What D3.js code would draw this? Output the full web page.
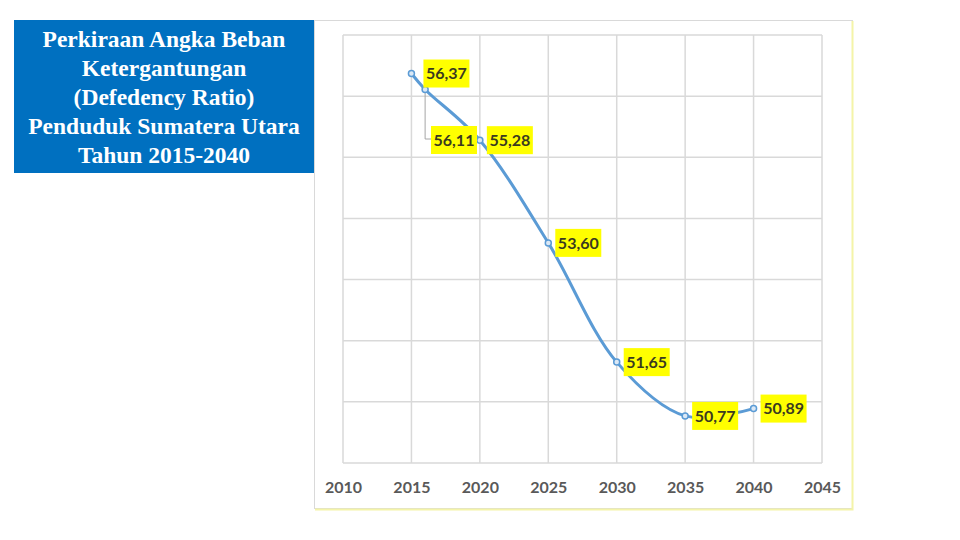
<!DOCTYPE html>
<html>
<head>
<meta charset="utf-8">
<script src="https://cdn.jsdelivr.net/npm/d3@7"></script>
<style>
  body { margin: 0; background: #fff; }
  svg { display: block; }
</style>
</head>
<body>
<div id="chart"></div>
<script>

var titleLines = ["Perkiraan Angka Beban", "Ketergantungan", "(Defedency Ratio)", "Penduduk Sumatera Utara", "Tahun 2015-2040"];

var years = [2015, 2016, 2020, 2025, 2030, 2035, 2040];
var ratios = [56.37, 56.11, 55.28, 53.60, 51.65, 50.77, 50.89];

var xTicks = [2010, 2015, 2020, 2025, 2030, 2035, 2040, 2045];
var yTicks = [50, 51, 52, 53, 54, 55, 56, 57];

var width = 960, height = 540;

var svg = d3.select("#chart")
  .append("svg")
  .attr("width", width)
  .attr("height", height);

// title box
svg.append("rect")
  .attr("x", 14)
  .attr("y", 20)
  .attr("width", 300)
  .attr("height", 153)
  .style("fill", "#0070c0");

svg.selectAll(".title").data(titleLines)
  .enter()
  .append("text")
  .attr("class", "title")
  .attr("x", 164)
  .attr("y", function(d, i) { return 47 + i*29; })
  .style("text-anchor", "middle")
  .style("font-family", "'Liberation Serif', 'Times New Roman', serif")
  .style("font-weight", "bold")
  .style("font-size", "23.5px")
  .style("fill", "white")
  .text(function(d) { return d; });

// chart frame
svg.append("rect")
  .attr("x", 314.5)
  .attr("y", 20.5)
  .attr("width", 538)
  .attr("height", 488)
  .style("fill", "white")
  .style("stroke", "#d9d9d9");

svg.append("path")
  .attr("d", "M852.5,21 V509.5 H315")
  .style("fill", "none")
  .style("stroke", "#f4f4a8")
  .style("stroke-width", 2);

var x = d3.scaleLinear().domain([2010, 2045]).range([343, 822]);
var y = d3.scaleLinear().domain([50, 57]).range([463, 35]);

// gridlines
svg.append("g")
  .attr("class", "grid")
  .selectAll("line.h").data(yTicks)
  .enter()
  .append("line")
  .attr("x1", x(2010))
  .attr("x2", x(2045))
  .attr("y1", function(d) { return y(d); })
  .attr("y2", function(d) { return y(d); })
  .style("stroke", "#d9d9d9")
  .style("stroke-width", 1.5);

svg.append("g")
  .attr("class", "grid")
  .selectAll("line.v").data(xTicks)
  .enter()
  .append("line")
  .attr("x1", function(d) { return x(d); })
  .attr("x2", function(d) { return x(d); })
  .attr("y1", y(57))
  .attr("y2", y(50))
  .style("stroke", "#d9d9d9")
  .style("stroke-width", 1.5);

// x axis labels
var xAxis = d3.axisBottom(x)
  .tickValues(xTicks)
  .tickSize(0)
  .tickPadding(19)
  .tickFormat(d3.format("d"));

var gx = svg.append("g")
  .attr("transform", "translate(0," + y(50) + ")")
  .call(xAxis);
gx.select(".domain").remove();
gx.selectAll("text")
  .style("font-family", "Lato, 'Open Sans', sans-serif")
  .style("font-size", "16px")
  .style("font-weight", "bold")
  .style("fill", "#595959");

var pts = years.map(function(d, i) { return {year: d, value: ratios[i]}; });

// line
var line = d3.line()
  .x(function(d) { return x(d.year); })
  .y(function(d) { return y(d.value); })
  .curve(d3.curveCatmullRom.alpha(0.5));

svg.append("path")
  .datum(pts)
  .attr("d", line)
  .style("fill", "none")
  .style("stroke", "#5b9bd5")
  .style("stroke-width", 3);

// leader line for the crowded 2016 label
svg.append("path")
  .attr("d", "M" + x(years[1]) + "," + (y(ratios[1]) + 3) + " V139 H431")
  .style("fill", "none")
  .style("stroke", "#a6a6a6")
  .style("stroke-width", 1);

svg.selectAll("circle.pt").data(pts)
  .enter()
  .append("circle")
  .attr("class", "pt")
  .attr("cx", function(d) { return x(d.year); })
  .attr("cy", function(d) { return y(d.value); })
  .attr("r", 3)
  .style("fill", "#dbe8f5")
  .style("stroke", "#5b9bd5")
  .style("stroke-width", 1.5);

// data labels
var fmt = function(v) { return d3.format(".2f")(v).replace(".", ","); };

var labels = svg.selectAll("g.lbl").data(pts)
  .enter()
  .append("g")
  .attr("class", "lbl")
  .attr("transform", function(d, i) {
    var lx = x(d.year) + 7, ly = y(d.value);
    if (i === 0) { lx = x(d.year) + 12; }
    if (i === 1) { lx = 431; ly = 140; }
    return "translate(" + lx + "," + ly + ")";
  });

labels.append("rect")
  .attr("x", 0)
  .attr("y", -14)
  .attr("width", 46)
  .attr("height", 28)
  .style("fill", "#ffff00");

labels.append("text")
  .attr("x", 23)
  .attr("dy", "0.36em")
  .style("text-anchor", "middle")
  .style("font-family", "Lato, 'Open Sans', sans-serif")
  .style("font-size", "16px")
  .style("font-weight", "bold")
  .style("fill", "#3a3a20")
  .text(function(d) { return fmt(d.value); });

</script>
</body>
</html>
